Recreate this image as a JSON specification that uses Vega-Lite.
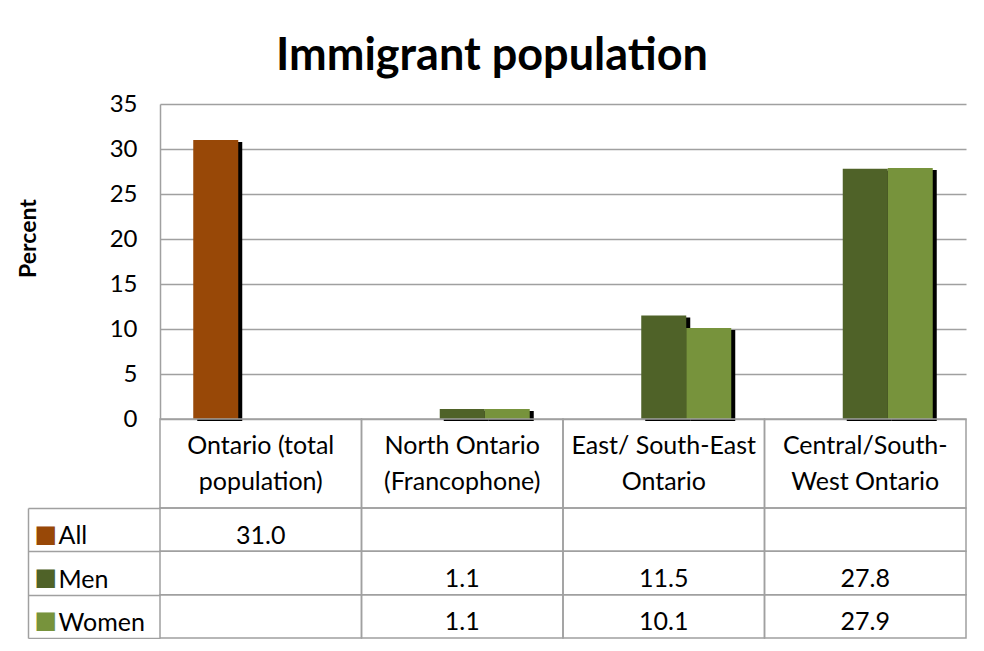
{
  "$schema": "https://vega.github.io/schema/vega-lite/v6.json",
  "background": "white",
  "padding": {"left": 17, "top": 34, "right": 18, "bottom": 0},
  "config": {"view": {"stroke": null}, "font": "Lato"},
  "title": {"text": "Immigrant population", "fontSize": 45, "fontWeight": "bold", "font": "Lato", "color": "black", "anchor": "middle", "frame": "bounds", "offset": 13},
  "datasets": {
    "cells": [
      {"category": "Ontario (total population)", "series": "All", "value": 31.0},
      {"category": "Ontario (total population)", "series": "Men", "value": null},
      {"category": "Ontario (total population)", "series": "Women", "value": null},
      {"category": "North Ontario (Francophone)", "series": "All", "value": null},
      {"category": "North Ontario (Francophone)", "series": "Men", "value": 1.1},
      {"category": "North Ontario (Francophone)", "series": "Women", "value": 1.1},
      {"category": "East/ South-East Ontario", "series": "All", "value": null},
      {"category": "East/ South-East Ontario", "series": "Men", "value": 11.5},
      {"category": "East/ South-East Ontario", "series": "Women", "value": 10.1},
      {"category": "Central/South-West Ontario", "series": "All", "value": null},
      {"category": "Central/South-West Ontario", "series": "Men", "value": 27.8},
      {"category": "Central/South-West Ontario", "series": "Women", "value": 27.9}
    ]
  },
  "spacing": 0,
  "bounds": "flush",
  "vconcat": [
    {
      "width": 806,
      "height": 315,
      "data": {"name": "cells"},
      "transform": [{"filter": "isValid(datum.value)"}],
      "encoding": {
        "x": {
          "field": "category", "type": "nominal",
          "sort": ["Ontario (total population)", "North Ontario (Francophone)", "East/ South-East Ontario", "Central/South-West Ontario"],
          "scale": {"paddingInner": 0.33, "paddingOuter": 0.165},
          "axis": null
        },
        "y": {
          "field": "value", "type": "quantitative",
          "scale": {"domain": [0, 35], "nice": false},
          "axis": {
            "title": "Percent", "titleFontSize": 23, "titleFontWeight": "bold", "titleColor": "black", "titlePadding": 69, "titleY": 134,
            "values": [0, 5, 10, 15, 20, 25, 30, 35], "labelFontSize": 24, "labelColor": "black", "labelPadding": 23,
            "labelFlush": false, "ticks": false, "domain": true, "domainColor": "#a0a0a0", "domainWidth": 1.5,
            "grid": true, "gridColor": "#a0a0a0", "gridWidth": 1.5
          }
        }
      },
      "layer": [
        {
          "mark": {"type": "bar", "color": "black", "yOffset": 2},
          "encoding": {
            "xOffset": {"field": "series", "type": "nominal", "scale": {"domain": ["All", "Men", "Women"], "range": [4, 139]}}
          }
        },
        {
          "mark": {"type": "bar"},
          "encoding": {
            "xOffset": {"field": "series", "type": "nominal", "scale": {"domain": ["All", "Men", "Women"], "paddingInner": 0, "paddingOuter": 0}},
            "color": {"field": "series", "type": "nominal", "scale": {"domain": ["All", "Men", "Women"], "range": ["#984807", "#4F6228", "#77933C"]}, "legend": null}
          }
        }
      ],
      "resolve": {"scale": {"xOffset": "independent"}}
    },
    {
      "width": 806,
      "height": 89,
      "data": {"name": "cells"},
      "transform": [{"filter": "datum.series == 'All'"}],
      "mark": {"type": "rect", "fill": "transparent", "stroke": "#a0a0a0", "strokeWidth": 1.5},
      "encoding": {
        "x": {
          "field": "category", "type": "nominal",
          "sort": ["Ontario (total population)", "North Ontario (Francophone)", "East/ South-East Ontario", "Central/South-West Ontario"],
          "scale": {"type": "band", "paddingInner": 0, "paddingOuter": 0},
          "axis": {
            "title": null, "orient": "bottom", "domain": false, "ticks": false, "tickSize": 0, "zindex": 1,
            "labelExpr": "datum.value == 'Ontario (total population)' ? ['Ontario (total', 'population)'] : datum.value == 'North Ontario (Francophone)' ? ['North Ontario', '(Francophone)'] : datum.value == 'East/ South-East Ontario' ? ['East/ South-East', 'Ontario'] : datum.value == 'Central/South-West Ontario' ? ['Central/South-', 'West Ontario'] : ''",
            "labelFontSize": 25, "labelColor": "black", "labelPadding": -63, "labelLineHeight": 36,
            "labelAngle": 0, "labelLimit": 400, "labelOverlap": false, "labelBaseline": "middle"
          }
        }
      }
    },
    {
      "width": 806,
      "height": 130,
      "data": {"name": "cells"},
      "encoding": {
        "x": {
          "field": "category", "type": "nominal",
          "sort": ["Ontario (total population)", "North Ontario (Francophone)", "East/ South-East Ontario", "Central/South-West Ontario"],
          "scale": {"type": "band", "paddingInner": 0, "paddingOuter": 0},
          "axis": null
        }
      },
      "layer": [
        {
          "mark": {"type": "rect", "fill": "transparent", "stroke": "#a0a0a0", "strokeWidth": 1.5},
          "encoding": {
            "y": {
              "field": "series", "type": "nominal",
              "scale": {"type": "band", "domain": ["All", "Men", "Women"], "paddingInner": 0, "paddingOuter": 0},
              "axis": {
                "title": null, "orient": "left", "domain": false, "ticks": true, "tickBand": "extent", "tickSize": 132,
                "tickColor": "#a0a0a0", "tickWidth": 1.5, "labelAlign": "left", "labelPadding": -30, "labelFontSize": 25,
                "labelColor": "black", "labelOffset": 6, "labelBaseline": "middle"
              }
            }
          }
        },
        {
          "transform": [{"filter": "isValid(datum.value)"}],
          "mark": {"type": "text", "fontSize": 25, "dy": 6, "color": "black"},
          "encoding": {
            "text": {"field": "value", "type": "quantitative", "format": ".1f"},
            "y": {
              "field": "series", "type": "nominal",
              "scale": {"type": "band", "domain": ["All", "Men", "Women"], "paddingInner": 0, "paddingOuter": 0},
              "axis": {
                "title": null, "orient": "left", "offset": 132, "domain": true, "domainColor": "#a0a0a0", "domainWidth": 1.5,
                "ticks": false, "tickSize": 0, "labelAlign": "left", "labelPadding": -6, "labelExpr": "'■'",
                "labelFontSize": 24, "labelFont": "DejaVu Sans", "labelOffset": 5, "labelBaseline": "middle",
                "labelColor": {"expr": "datum.value == 'All' ? '#984807' : datum.value == 'Men' ? '#4F6228' : '#77933C'"}
              }
            }
          }
        }
      ],
      "resolve": {"scale": {"y": "independent"}, "axis": {"y": "independent"}}
    }
  ]
}
